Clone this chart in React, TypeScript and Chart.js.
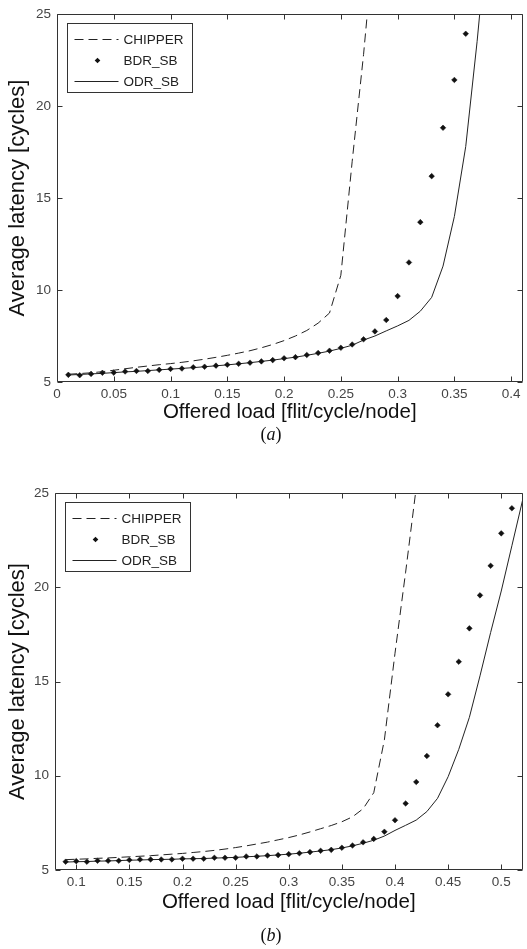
import React, { useEffect, useRef } from 'react';
import { Chart, registerables } from 'chart.js';

Chart.register(...registerables);

const SANS = '"Liberation Sans", Arial, Helvetica, sans-serif';
const SERIF = '"Liberation Serif", "Times New Roman", serif';
const INK = '#222222';
const AXIS = '#333333';

const SERIES_LABELS = ['CHIPPER', 'BDR_SB', 'ODR_SB'];

// ---------- panel (a) ----------
const xA_CHIPPER = [0.01, 0.02, 0.03, 0.04, 0.05, 0.06, 0.07, 0.08, 0.09, 0.10, 0.11, 0.12, 0.13, 0.14, 0.15, 0.16, 0.17, 0.18, 0.19, 0.20, 0.21, 0.22, 0.23, 0.24, 0.25, 0.26, 0.27, 0.28];
const yA_CHIPPER = [5.42, 5.46, 5.50, 5.56, 5.64, 5.72, 5.80, 5.87, 5.94, 6.00, 6.07, 6.15, 6.24, 6.34, 6.45, 6.57, 6.70, 6.86, 7.04, 7.25, 7.50, 7.80, 8.20, 8.75, 10.8, 17.0, 22.8, 29.5];

const xA_BDR = [0.01, 0.02, 0.03, 0.04, 0.05, 0.06, 0.07, 0.08, 0.09, 0.10, 0.11, 0.12, 0.13, 0.14, 0.15, 0.16, 0.17, 0.18, 0.19, 0.20, 0.21, 0.22, 0.23, 0.24, 0.25, 0.26, 0.27, 0.28, 0.29, 0.30, 0.31, 0.32, 0.33, 0.34, 0.35, 0.36];
const yA_BDR = [5.39, 5.37, 5.44, 5.50, 5.51, 5.57, 5.60, 5.60, 5.66, 5.71, 5.73, 5.80, 5.83, 5.89, 5.94, 5.99, 6.05, 6.12, 6.19, 6.29, 6.35, 6.47, 6.58, 6.70, 6.86, 7.04, 7.32, 7.75, 8.37, 9.67, 11.5, 13.69, 16.19, 18.82, 21.42, 23.93];

const xA_ODR = [0.01, 0.02, 0.03, 0.04, 0.05, 0.06, 0.07, 0.08, 0.09, 0.10, 0.11, 0.12, 0.13, 0.14, 0.15, 0.16, 0.17, 0.18, 0.19, 0.20, 0.21, 0.22, 0.23, 0.24, 0.25, 0.26, 0.27, 0.28, 0.29, 0.30, 0.31, 0.32, 0.33, 0.34, 0.35, 0.36, 0.37, 0.38];
const yA_ODR = [5.38, 5.41, 5.44, 5.47, 5.51, 5.55, 5.58, 5.62, 5.66, 5.70, 5.74, 5.78, 5.83, 5.88, 5.93, 5.99, 6.05, 6.12, 6.19, 6.27, 6.35, 6.45, 6.56, 6.68, 6.83, 7.00, 7.28, 7.50, 7.78, 8.05, 8.35, 8.85, 9.60, 11.3, 14.0, 17.8, 23.5, 30.0];

const xTicksA = [0, 0.05, 0.1, 0.15, 0.2, 0.25, 0.3, 0.35, 0.4];
const xTickLabelsA = ['0', '0.05', '0.1', '0.15', '0.2', '0.25', '0.3', '0.35', '0.4'];

// ---------- panel (b) ----------
const xB_CHIPPER = [0.09, 0.10, 0.11, 0.12, 0.13, 0.14, 0.15, 0.16, 0.17, 0.18, 0.19, 0.20, 0.21, 0.22, 0.23, 0.24, 0.25, 0.26, 0.27, 0.28, 0.29, 0.30, 0.31, 0.32, 0.33, 0.34, 0.35, 0.36, 0.37, 0.38, 0.39, 0.40, 0.41, 0.42];
const yB_CHIPPER = [5.55, 5.57, 5.59, 5.62, 5.64, 5.67, 5.70, 5.73, 5.76, 5.80, 5.84, 5.88, 5.93, 5.98, 6.04, 6.11, 6.19, 6.28, 6.38, 6.48, 6.60, 6.72, 6.86, 7.02, 7.19, 7.36, 7.56, 7.82, 8.25, 9.10, 11.9, 16.5, 20.8, 25.3];

const xB_BDR = [0.09, 0.10, 0.11, 0.12, 0.13, 0.14, 0.15, 0.16, 0.17, 0.18, 0.19, 0.20, 0.21, 0.22, 0.23, 0.24, 0.25, 0.26, 0.27, 0.28, 0.29, 0.30, 0.31, 0.32, 0.33, 0.34, 0.35, 0.36, 0.37, 0.38, 0.39, 0.40, 0.41, 0.42, 0.43, 0.44, 0.45, 0.46, 0.47, 0.48, 0.49, 0.50, 0.51];
const yB_BDR = [5.44, 5.47, 5.44, 5.49, 5.49, 5.49, 5.53, 5.56, 5.56, 5.56, 5.56, 5.60, 5.60, 5.60, 5.65, 5.65, 5.65, 5.72, 5.72, 5.77, 5.79, 5.84, 5.89, 5.95, 6.02, 6.07, 6.18, 6.30, 6.47, 6.65, 7.03, 7.64, 8.53, 9.67, 11.05, 12.68, 14.32, 16.05, 17.82, 19.57, 21.14, 22.86, 24.19];

const xB_ODR = [0.09, 0.10, 0.11, 0.12, 0.13, 0.14, 0.15, 0.16, 0.17, 0.18, 0.19, 0.20, 0.21, 0.22, 0.23, 0.24, 0.25, 0.26, 0.27, 0.28, 0.29, 0.30, 0.31, 0.32, 0.33, 0.34, 0.35, 0.36, 0.37, 0.38, 0.39, 0.40, 0.41, 0.42, 0.43, 0.44, 0.45, 0.46, 0.47, 0.48, 0.49, 0.50, 0.51, 0.52];
const yB_ODR = [5.42, 5.44, 5.45, 5.47, 5.48, 5.50, 5.52, 5.53, 5.55, 5.56, 5.57, 5.59, 5.60, 5.61, 5.63, 5.65, 5.67, 5.70, 5.73, 5.76, 5.80, 5.84, 5.89, 5.95, 6.01, 6.08, 6.17, 6.28, 6.42, 6.58, 6.80, 7.10, 7.37, 7.65, 8.10, 8.80, 9.95, 11.4, 13.1, 15.3, 17.6, 19.8, 22.2, 24.6];

const xTicksB = [0.1, 0.15, 0.2, 0.25, 0.3, 0.35, 0.4, 0.45, 0.5];
const xTickLabelsB = ['0.1', '0.15', '0.2', '0.25', '0.3', '0.35', '0.4', '0.45', '0.5'];

// ---------- shared y axis ----------
const yTicks = [5, 10, 15, 20, 25];
const yTickLabels = ['5', '10', '15', '20', '25'];

const X_TITLE = 'Offered load [flit/cycle/node]';
const Y_TITLE = 'Average latency [cycles]';

function pts(xs: number[], ys: number[]) {
  return ys.map((y, i) => ({ x: xs[i], y }));
}

function buildDatasets(xc: number[], yc: number[], xb: number[], yb: number[], xo: number[], yo: number[]) {
  return [
    {
      label: SERIES_LABELS[0],
      data: pts(xc, yc),
      borderColor: INK,
      borderWidth: 1,
      borderDash: [9, 5],
      pointRadius: 0,
      fill: false,
      tension: 0,
    },
    {
      label: SERIES_LABELS[1],
      data: pts(xb, yb),
      showLine: false,
      pointStyle: 'rectRot',
      pointRadius: 2.8,
      backgroundColor: '#111111',
      borderColor: '#111111',
      borderWidth: 0.5,
    },
    {
      label: SERIES_LABELS[2],
      data: pts(xo, yo),
      borderColor: INK,
      borderWidth: 1,
      pointRadius: 0,
      fill: false,
      tension: 0,
    },
  ];
}

const frameTicksPlugin = {
  id: 'frameTicks',
  afterDatasetsDraw(chart: any) {
    const { ctx, chartArea: a } = chart;
    const xs = chart.scales.x;
    const ys = chart.scales.y;
    const L = Math.round(a.left) + 0.5;
    const R = Math.round(a.right) - 0.5;
    const T = Math.round(a.top) + 0.5;
    const B = Math.round(a.bottom) - 0.5;
    const tl = 5;
    ctx.save();
    ctx.strokeStyle = AXIS;
    ctx.lineWidth = 1;
    ctx.setLineDash([]);
    ctx.beginPath();
    ctx.rect(L, T, R - L, B - T);
    xs.ticks.forEach((t: any) => {
      const p = Math.round(xs.getPixelForValue(t.value)) + 0.5;
      ctx.moveTo(p, B);
      ctx.lineTo(p, B - tl);
      ctx.moveTo(p, T);
      ctx.lineTo(p, T + tl);
    });
    ys.ticks.forEach((t: any) => {
      const p = Math.round(ys.getPixelForValue(t.value)) + 0.5;
      ctx.moveTo(L, p);
      ctx.lineTo(L + tl, p);
      ctx.moveTo(R, p);
      ctx.lineTo(R - tl, p);
    });
    ctx.stroke();
    ctx.restore();
  },
};

const boxLegendPlugin = {
  id: 'boxLegend',
  afterDraw(chart: any) {
    const { ctx, chartArea: a } = chart;
    const bx = Math.round(a.left + 10) + 0.5;
    const by = Math.round(a.top + 9) + 0.5;
    const bw = 125;
    const bh = 69;
    ctx.save();
    ctx.fillStyle = '#ffffff';
    ctx.fillRect(bx, by, bw, bh);
    ctx.strokeStyle = AXIS;
    ctx.lineWidth = 1;
    ctx.setLineDash([]);
    ctx.strokeRect(bx, by, bw, bh);
    chart.data.datasets.forEach((ds: any, i: number) => {
      const cy = Math.round(by + 15 + i * 21) + 0.5;
      if (ds.showLine === false) {
        const cx = bx + 30;
        const r = 2.8;
        ctx.fillStyle = '#111111';
        ctx.beginPath();
        ctx.moveTo(cx, cy - r);
        ctx.lineTo(cx + r, cy);
        ctx.lineTo(cx, cy + r);
        ctx.lineTo(cx - r, cy);
        ctx.closePath();
        ctx.fill();
      } else {
        ctx.strokeStyle = INK;
        ctx.lineWidth = 1;
        ctx.setLineDash(ds.borderDash || []);
        ctx.beginPath();
        ctx.moveTo(bx + 7, cy);
        ctx.lineTo(bx + 51, cy);
        ctx.stroke();
        ctx.setLineDash([]);
      }
      ctx.fillStyle = '#222222';
      ctx.font = `13.5px ${SANS}`;
      ctx.textBaseline = 'middle';
      ctx.textAlign = 'left';
      ctx.fillText(ds.label, bx + 56, cy + 0.5);
    });
    ctx.restore();
  },
};

type PanelProps = {
  top: number;
  height: number;
  padTop: number;
  yWidth: number;
  xHeight: number;
  xTitlePadBottom: number;
  xMin: number;
  xMax: number;
  xTicks: number[];
  xTickLabels: string[];
  datasets: any[];
};

function Panel(p: PanelProps) {
  const ref = useRef<HTMLCanvasElement | null>(null);
  useEffect(() => {
    if (!ref.current) return;
    const chart = new Chart(ref.current, {
      type: 'line',
      data: { datasets: p.datasets },
      options: {
        animation: false,
        responsive: false,
        maintainAspectRatio: false,
        layout: { padding: { left: 0, right: 2, top: p.padTop, bottom: 0 } },
        plugins: { legend: { display: false }, tooltip: { enabled: false } },
        scales: {
          x: {
            type: 'linear',
            min: p.xMin,
            max: p.xMax,
            grid: { display: false, drawTicks: false },
            border: { display: false },
            afterBuildTicks: (s: any) => {
              s.ticks = p.xTicks.map((v) => ({ value: v }));
            },
            afterFit: (s: any) => {
              s.height = p.xHeight;
            },
            ticks: {
              padding: 4,
              maxRotation: 0,
              autoSkip: false,
              color: '#444444',
              font: { family: SANS, size: 13.5 },
              callback: (_v: any, i: number) => p.xTickLabels[i],
            },
            title: {
              display: true,
              text: X_TITLE,
              color: '#111111',
              font: { family: SANS, size: 20.5 },
              padding: { top: 0, bottom: p.xTitlePadBottom },
            },
          },
          y: {
            type: 'linear',
            min: 5,
            max: 25,
            grid: { display: false, drawTicks: false },
            border: { display: false },
            afterBuildTicks: (s: any) => {
              s.ticks = yTicks.map((v) => ({ value: v }));
            },
            afterFit: (s: any) => {
              s.width = p.yWidth;
            },
            ticks: {
              padding: 6,
              autoSkip: false,
              color: '#444444',
              font: { family: SANS, size: 13.5 },
              callback: (_v: any, i: number) => yTickLabels[i],
            },
            title: {
              display: true,
              text: Y_TITLE,
              color: '#111111',
              font: { family: SANS, size: 22 },
              padding: { top: 5, bottom: 0 },
            },
          },
        },
      },
      plugins: [frameTicksPlugin, boxLegendPlugin],
    } as any);
    return () => chart.destroy();
  }, []);
  return (
    <canvas
      ref={ref}
      width={527}
      height={p.height}
      style={{ position: 'absolute', left: 0, top: p.top, width: 527, height: p.height, display: 'block' }}
    />
  );
}

const dsA = buildDatasets(xA_CHIPPER, yA_CHIPPER, xA_BDR, yA_BDR, xA_ODR, yA_ODR);
const dsB = buildDatasets(xB_CHIPPER, yB_CHIPPER, xB_BDR, yB_BDR, xB_ODR, yB_ODR);

const captionStyle: React.CSSProperties = {
  position: 'absolute',
  left: 221,
  width: 100,
  textAlign: 'center',
  fontFamily: SERIF,
  fontSize: 18,
  lineHeight: '22px',
  color: '#111111',
};

export default function App() {
  return (
    <div style={{ position: 'absolute', left: 0, top: 0, width: 527, height: 949, background: '#ffffff', overflow: 'hidden' }}>
      <Panel
        top={0}
        height={445}
        padTop={9}
        yWidth={57}
        xHeight={63}
        xTitlePadBottom={20}
        xMin={0}
        xMax={0.41}
        xTicks={xTicksA}
        xTickLabels={xTickLabelsA}
        datasets={dsA}
      />
      <div style={{ ...captionStyle, top: 423 }}>
        (<i>a</i>)
      </div>
      <Panel
        top={455}
        height={494}
        padTop={38}
        yWidth={55}
        xHeight={79}
        xTitlePadBottom={34}
        xMin={0.08}
        xMax={0.52}
        xTicks={xTicksB}
        xTickLabels={xTickLabelsB}
        datasets={dsB}
      />
      <div style={{ ...captionStyle, top: 924 }}>
        (<i>b</i>)
      </div>
    </div>
  );
}
